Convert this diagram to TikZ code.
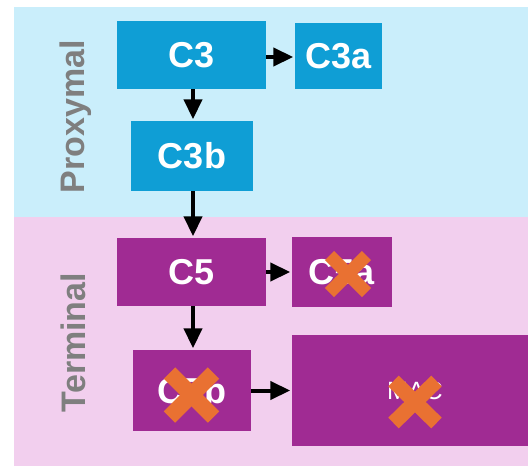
\documentclass[tikz,border=0pt]{standalone}
\usepackage{fontspec}
\setmainfont{Liberation Sans}
\usetikzlibrary{arrows.meta}
\definecolor{bandblue}{HTML}{CAEEFB}
\definecolor{bandpink}{HTML}{F2CFEE}
\definecolor{boxblue}{HTML}{0F9ED5}
\definecolor{boxpurple}{HTML}{A02B93}
\definecolor{xorange}{HTML}{E97132}
\definecolor{labelgrey}{HTML}{7F7F7F}
\tikzset{
  box/.style={rectangle, inner sep=0pt, text=white, font=\bfseries\fontsize{36}{42}\selectfont},
  bluebox/.style={box, fill=boxblue},
  purplebox/.style={box, fill=boxpurple},
  arr/.style={draw=black, line width=4pt, -{Triangle[length=20pt,width=18pt]}, shorten >=1.5pt},
  sidelabel/.style={rotate=90, anchor=base, inner sep=0pt, text=labelgrey, font=\bfseries\fontsize{34}{40}\selectfont},
  xmark/.style={draw=xorange, line cap=butt}
}
\begin{document}
\begin{tikzpicture}[x=1pt, y=-1pt]
\useasboundingbox (0,0) rectangle (528,466);
\clip (0,0) rectangle (528,466);
% bands
\fill[bandblue] (14,7) rectangle (528,217);
\fill[bandpink] (14,217) rectangle (528,466);
% side labels
\node[sidelabel] (prox) at (84.5,116.5) {Proxymal};
\node[sidelabel] (term) at (85,342.5) {Terminal};
% boxes
\node[bluebox, minimum width=149pt, minimum height=68pt] (c3) at (191.5,55) {C3};
\node[bluebox, minimum width=87pt, minimum height=66pt] (c3a) at (338.5,56) {C3a};
\node[bluebox, minimum width=122pt, minimum height=70pt] (c3b) at (192,156) {C3b};
\node[purplebox, minimum width=149pt, minimum height=68pt] (c5) at (191.5,272) {C5};
\node[purplebox, minimum width=100pt, minimum height=70pt] (c5a) at (342,272) {C5a};
\node[purplebox, minimum width=118pt, minimum height=81pt] (c5b) at (192,390.5) {C5b};
\node[purplebox, minimum width=246pt, minimum height=111pt, font=\fontsize{25}{30}\selectfont] (mac) at (415,390.5) {MAC};
% arrows
\draw[arr] ([yshift=-2pt]c3.east) -- ([yshift=-2pt]c3.east -| c3a.west);
\draw[arr] ([xshift=1.5pt]c3.south) -- ([xshift=1.5pt]c3.south |- c3b.north);
\draw[arr] ([xshift=1pt]c3b.south) -- ([xshift=1pt]c3b.south |- c5.north);
\draw[arr] (c5.east) -- (c5.east -| c5a.west);
\draw[arr] ([xshift=1.5pt]c5.south) -- ([xshift=1.5pt]c5.south |- c5b.north);
\draw[arr] (c5b.east) -- (c5b.east -| mac.west);
% crosses
\coordinate (xa) at (348,274);
\coordinate (xb) at (191.5,395);
\coordinate (xm) at (415,402);
\draw[xmark, line width=13pt] ([shift={(-18.5,-18.5)}]xa) -- ([shift={(18.5,18.5)}]xa);
\draw[xmark, line width=13pt] ([shift={(-18.5,18.5)}]xa) -- ([shift={(18.5,-18.5)}]xa);
\draw[xmark, line width=16pt] ([shift={(-22,-22)}]xb) -- ([shift={(22,22)}]xb);
\draw[xmark, line width=16pt] ([shift={(-22,22)}]xb) -- ([shift={(22,-22)}]xb);
\draw[xmark, line width=15pt] ([shift={(-21.5,-21)}]xm) -- ([shift={(21.5,21)}]xm);
\draw[xmark, line width=15pt] ([shift={(-21.5,21)}]xm) -- ([shift={(21.5,-21)}]xm);
\end{tikzpicture}
\end{document}
